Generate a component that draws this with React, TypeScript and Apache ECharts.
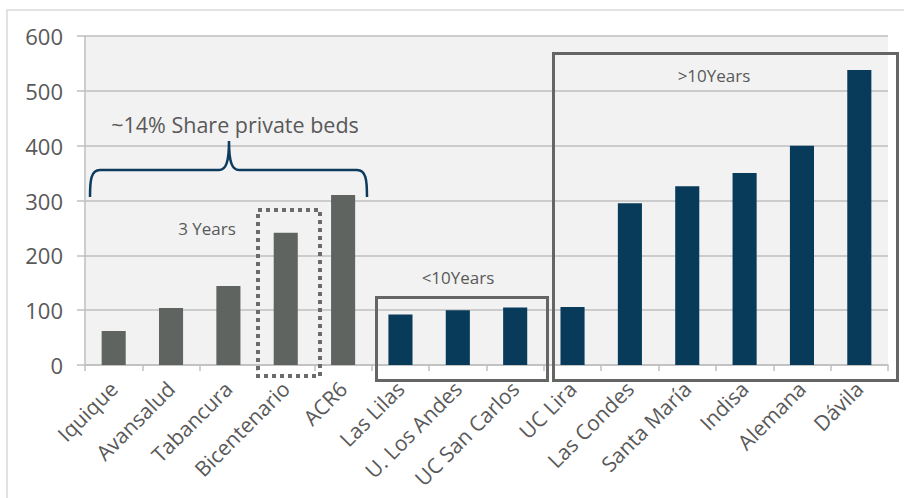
import React, { useEffect, useRef } from "react";
import * as echarts from "echarts";

const categories = [
  "Iquique", "Avansalud", "Tabancura", "Bicentenario", "ACR6",
  "Las Lilas", "U. Los Andes", "UC San Carlos",
  "UC Lira", "Las Condes", "Santa María", "Indisa", "Alemana", "Dávila",
];
const beds = [62, 104, 144, 241, 310, 92, 100, 105, 106, 295, 326, 350, 400, 538];
const groupOf = ["new", "new", "new", "new", "new", "mid", "mid", "mid", "old", "old", "old", "old", "old", "old"];
const yTicks = { min: 0, max: 600, interval: 100 };

const GRAY = "#606460";
const NAVY = "#083a5a";
const TEXT = "#595959";
const BOX = "#636662";

export default function App() {
  const ref = useRef<HTMLDivElement>(null);
  useEffect(() => {
    if (!ref.current) return;
    echarts.graphic.registerShape(
      "brace",
      echarts.graphic.extendPath(
        "M90,197 C90,180 91,170 100,170 L219,170 C226,170 229,162 229,141 C229,162 232,170 239,170 L357,170 C366,170 367,180 367,197",
        {}
      )
    );
    const chart = echarts.init(ref.current, null, { renderer: "svg" });
    chart.setOption({
      animation: false,
      grid: { left: 85, top: 36, right: 16, bottom: 133, show: true, backgroundColor: "#f2f2f2", borderWidth: 0 },
      xAxis: {
        type: "category",
        data: categories,
        axisLine: { lineStyle: { color: "#bfbfbf", width: 1.5 } },
        axisTick: { show: true, length: 6, lineStyle: { color: "#bfbfbf", width: 1.5 } },
        axisLabel: { rotate: 45, color: TEXT, fontSize: 21, fontFamily: "Open Sans", margin: 20, interval: 0 },
      },
      yAxis: {
        type: "value",
        min: yTicks.min,
        max: yTicks.max,
        interval: yTicks.interval,
        axisLine: { show: true, lineStyle: { color: "#bfbfbf", width: 1.5 } },
        axisTick: { show: true, length: 8, lineStyle: { color: "#bfbfbf", width: 1.5 } },
        splitLine: { lineStyle: { color: "#bfbfbf", width: 1.5 } },
        axisLabel: { color: TEXT, fontSize: 22, fontFamily: "Open Sans", margin: 22 },
      },
      series: [
        {
          type: "bar",
          barWidth: "42%",
          data: beds.map((v, i) => ({ value: v, itemStyle: { color: groupOf[i] === "new" ? GRAY : NAVY } })),
        },
      ],
      graphic: [
        { type: "rect", shape: { x: 7, y: 10, width: 1000, height: 1000 }, style: { fill: "none", stroke: "#d9d9d9", lineWidth: 1.5 }, z: -10 },
        { type: "brace", x: 0, y: 0, style: { fill: "none", stroke: "#0d3b5e", lineWidth: 2.5 }, z: 10 },
        { type: "text", x: 235, y: 124, style: { text: "~14% Share private beds", fill: TEXT, fontSize: 21.5, fontFamily: "Open Sans", align: "center", verticalAlign: "middle" }, z: 10 },
        { type: "text", x: 207, y: 228, style: { text: "3 Years", fill: TEXT, fontSize: 17, fontFamily: "Open Sans", align: "center", verticalAlign: "middle" }, z: 10 },
        { type: "rect", shape: { x: 258, y: 210, width: 62, height: 166 }, style: { fill: "none", stroke: "#6b6b6b", lineWidth: 4, lineDash: [4, 4] }, z: 10 },
        { type: "rect", shape: { x: 376.5, y: 297.5, width: 171, height: 83 }, style: { fill: "none", stroke: BOX, lineWidth: 3 }, z: 10 },
        { type: "text", x: 458, y: 277, style: { text: "<10Years", fill: TEXT, fontSize: 17, fontFamily: "Open Sans", align: "center", verticalAlign: "middle" }, z: 10 },
        { type: "rect", shape: { x: 553.5, y: 53.5, width: 344, height: 327 }, style: { fill: "none", stroke: BOX, lineWidth: 3 }, z: 10 },
        { type: "text", x: 714, y: 75, style: { text: ">10Years", fill: TEXT, fontSize: 17, fontFamily: "Open Sans", align: "center", verticalAlign: "middle" }, z: 10 },
      ],
    });
    return () => chart.dispose();
  }, []);
  return <div ref={ref} style={{ position: "fixed", left: 0, top: 0, width: 904, height: 498, background: "#fff" }} />;
}
